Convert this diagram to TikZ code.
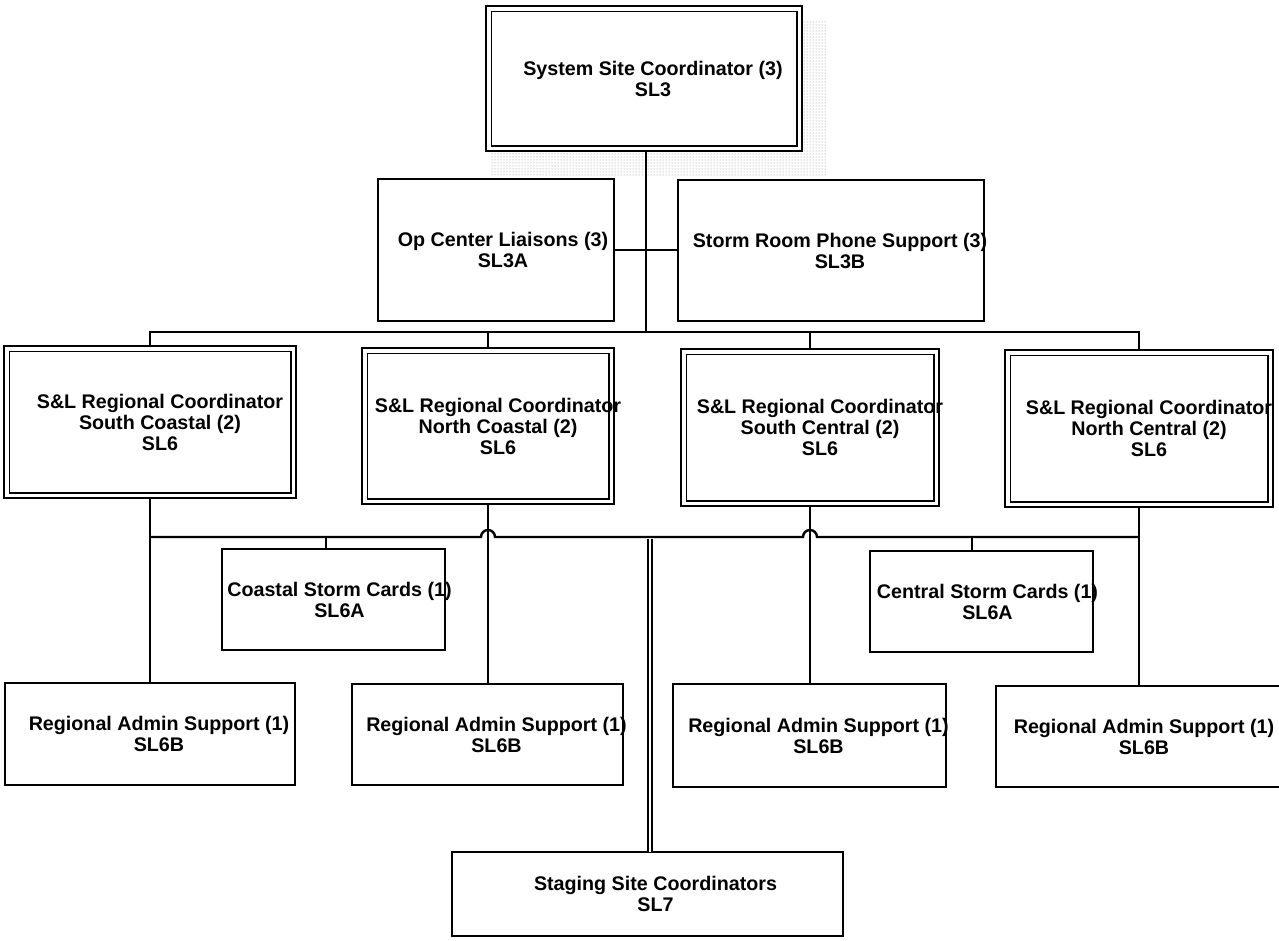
\documentclass[tikz,border=0pt]{standalone}
\usepackage{fontspec}
\setmainfont{Liberation Sans}
\usetikzlibrary{patterns}
\begin{document}
\begin{tikzpicture}[x=1pt, y=-1pt,
  box/.style={draw, line width=1.9pt, fill=white, inner sep=0pt, outer sep=0pt},
  dbox/.style={draw, line width=2.2pt, fill=white, inner sep=0pt, outer sep=0pt},
  inner/.style={line width=1.2pt},
  lbl/.style={align=center, font=\fontsize{19.7}{21}\selectfont\bfseries, inner sep=0pt},
  wire/.style={line width=1.8pt},
  bus/.style={line width=2.4pt},
  twin/.style={line width=1.4pt, double, double distance=2.4pt}]

\path[use as bounding box, fill=white] (0,0) rectangle (1279,940);
\clip (0,0) rectangle (1279,940);

% stippled shadow behind the top box
\fill[pattern=dots, pattern color=black!45] (490,20) rectangle (826,176);

% top level
\node[dbox, minimum width=315.8pt, minimum height=144.8pt] (T) at (644,78.5) {};
\node[lbl, xshift=9pt] at (T) {System Site Coordinator (3)\\SL3};

\node[box, minimum width=236pt, minimum height=142pt] (O) at (496,250) {};
\node[lbl, xshift=7pt] at (O) {Op Center Liaisons (3)\\SL3A};
\node[box, minimum width=306pt, minimum height=141pt] (S) at (831,250.5) {};
\node[lbl, xshift=9pt] at (S) {Storm Room Phone Support (3)\\SL3B};

% regional coordinators
\node[dbox, minimum width=291.8pt, minimum height=151.8pt] (B1) at (150,422) {};
\node[lbl, xshift=10pt] at (B1) {S\&L Regional Coordinator\\South Coastal (2)\\SL6};
\node[dbox, minimum width=251.8pt, minimum height=155.8pt] (B2) at (488,426) {};
\node[lbl, xshift=10pt] at (B2) {S\&L Regional Coordinator\\North Coastal (2)\\SL6};
\node[dbox, minimum width=257.8pt, minimum height=156.8pt] (B3) at (810,427.5) {};
\node[lbl, xshift=10pt] at (B3) {S\&L Regional Coordinator\\South Central (2)\\SL6};
\node[dbox, minimum width=267.8pt, minimum height=156.8pt] (B4) at (1139,428.5) {};
\node[lbl, xshift=10pt] at (B4) {S\&L Regional Coordinator\\North Central (2)\\SL6};

% inner rules of the double-framed boxes
\foreach \n in {T,B1,B2,B3,B4}
  \draw[inner] ([shift={(5,5)}]\n.north west) rectangle ([shift={(-5,-5)}]\n.south east);

% storm cards
\node[box, minimum width=223pt, minimum height=101pt] (C1) at (333.5,599.5) {};
\node[lbl, xshift=6pt] at (C1) {Coastal Storm Cards (1)\\SL6A};
\node[box, minimum width=223pt, minimum height=101pt] (C2) at (981.5,601.5) {};
\node[lbl, xshift=6pt] at (C2) {Central Storm Cards (1)\\SL6A};

% admin support
\node[box, minimum width=290pt, minimum height=102pt] (RA1) at (150,734) {};
\node[lbl, xshift=9pt] at (RA1) {Regional Admin Support (1)\\SL6B};
\node[box, minimum width=271pt, minimum height=101pt] (RA2) at (487.5,734.5) {};
\node[lbl, xshift=9pt] at (RA2) {Regional Admin Support (1)\\SL6B};
\node[box, minimum width=273pt, minimum height=103pt] (RA3) at (809.5,735.5) {};
\node[lbl, xshift=9pt] at (RA3) {Regional Admin Support (1)\\SL6B};
\node[box, minimum width=294pt, minimum height=101pt] (RA4) at (1143,736.5) {};
\node[lbl, xshift=1pt] at (RA4) {Regional Admin Support (1)\\SL6B};

% staging
\node[box, minimum width=391pt, minimum height=84pt] (G) at (647.5,894) {};
\node[lbl, xshift=8pt] at (G) {Staging Site Coordinators\\SL7};

% upper connectors
\coordinate (ub) at (646,332);
\draw[wire] (T.south -| ub) -- (ub);
\draw[wire] (O.east) -- (O.east -| S.west);
\draw[bus] (B1.north) -- (B1.north |- ub) -- (B4.north |- ub) -- (B4.north);
\draw[wire] (B2.north) -- (B2.north |- ub);
\draw[wire] (B3.north) -- (B3.north |- ub);

% lower connectors
\coordinate (lb) at (650,537);
\coordinate (dl) at (650,538.5);
\draw[twin] (dl) -- (dl |- G.north);
\draw[wire] (B1.south) -- (B1.south |- RA1.north);
\draw[wire] (B2.south) -- (B2.south |- RA2.north);
\draw[wire] (B3.south) -- (B3.south |- RA3.north);
\draw[wire] (B4.south) -- (B4.south |- RA4.north);
\coordinate[xshift=-7pt] (h2) at (B2.south |- lb);
\coordinate[xshift=-7pt] (h3) at (B3.south |- lb);
\draw[bus] (B1.south |- lb) -- (h2) arc[start angle=180, end angle=360, radius=7]
  -- (h3) arc[start angle=180, end angle=360, radius=7] -- (B4.south |- lb);
\coordinate (c1t) at (326,537);
\draw[wire] (c1t) -- (c1t |- C1.north);
\coordinate (c2t) at (972,537);
\draw[wire] (c2t) -- (c2t |- C2.north);
\end{tikzpicture}
\end{document}
